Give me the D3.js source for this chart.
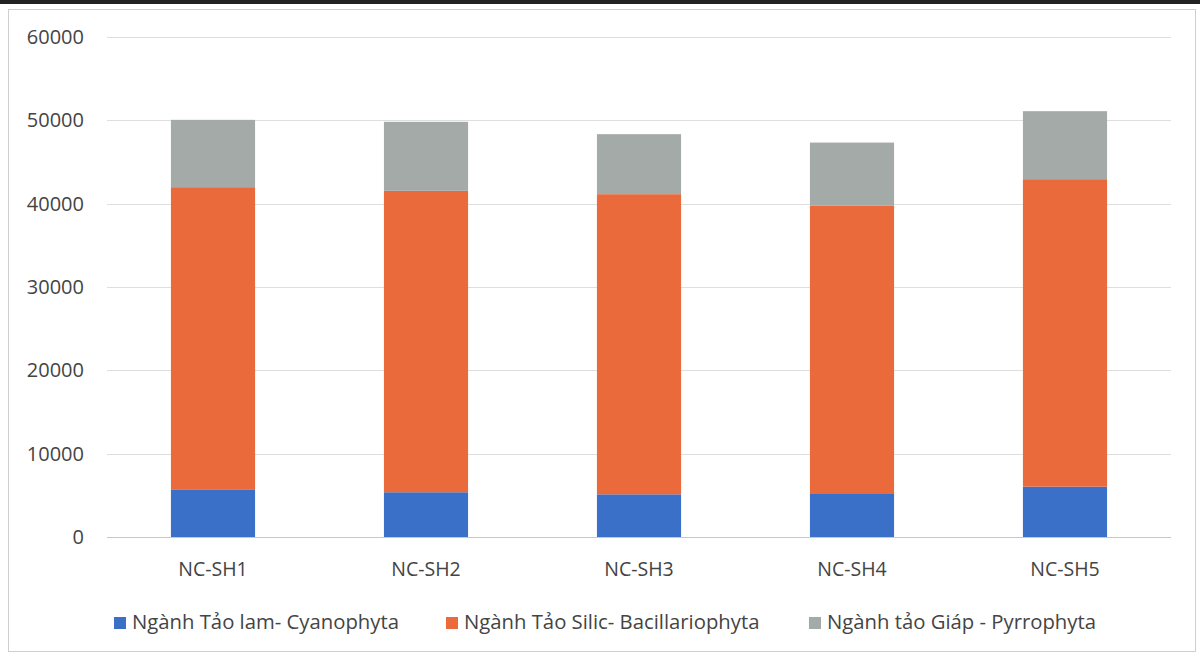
<!DOCTYPE html>
<html><head><meta charset="utf-8">
<script src="https://cdn.jsdelivr.net/npm/d3@7"></script>
<style>html,body{margin:0;padding:0;background:#fff;}svg{display:block;}</style>
</head><body>
<svg id="c" width="1200" height="654"></svg>
<script>
const categories = ["NC-SH1","NC-SH2","NC-SH3","NC-SH4","NC-SH5"];
const seriesNames = ["Ngành Tảo lam- Cyanophyta","Ngành Tảo Silic- Bacillariophyta","Ngành tảo Giáp - Pyrrophyta"];
const cyanophyta = [5720, 5370, 5120, 5160, 6040];
const bacillariophyta = [36260, 36170, 36020, 34580, 36900];
const pyrrophyta = [8080, 8280, 7200, 7590, 8160];
const yTicks = [0, 10000, 20000, 30000, 40000, 50000, 60000];
const colors = ["#3b70c8", "#ea6a3c", "#a4aaa7"];

const svg = d3.select("#c");
const font = "'Open Sans', 'Noto Sans', sans-serif";

// frame
svg.append("rect").attr("x",0).attr("y",0).attr("width",1200).attr("height",4).attr("fill","#222");
svg.append("rect").attr("x",8.5).attr("y",9.5).attr("width",1187).attr("height",642)
  .attr("fill","none").attr("stroke","#cfcfcf").attr("stroke-width",1);

const x = d3.scaleBand().domain(categories).range([106.5, 1171.5]).paddingInner(0.605).paddingOuter(0.3025);
const y = d3.scaleLinear().domain([0, 60000]).range([537, 37]);

// gridlines
svg.append("g").selectAll("line").data(yTicks).join("line")
  .attr("x1",107).attr("x2",1171)
  .attr("y1",d=>Math.round(y(d))+0.5).attr("y2",d=>Math.round(y(d))+0.5)
  .attr("stroke",d=>d===0?"#c8c8c8":"#dedede").attr("stroke-width",1);

const yAxis = d3.axisLeft(y).tickValues(yTicks).tickSize(0).tickPadding(0).tickFormat(d3.format("d"));
const gy = svg.append("g").attr("transform","translate(84,0)").call(yAxis);
gy.select(".domain").remove();
gy.selectAll("text").attr("font-family",font).attr("font-size",20).attr("fill","#444");

const data = categories.map((c,i)=>({cat:c, s0:cyanophyta[i], s1:bacillariophyta[i], s2:pyrrophyta[i]}));
const stack = d3.stack().keys(["s0","s1","s2"])(data);

svg.append("g").selectAll("g").data(stack).join("g")
  .attr("fill",(d,i)=>colors[i])
  .selectAll("rect").data(d=>d).join("rect")
  .attr("x",d=>x(d.data.cat))
  .attr("width",x.bandwidth())
  .attr("y",d=>y(d[1]))
  .attr("height",d=>y(d[0])-y(d[1]));

const xAxis = d3.axisBottom(x).tickSize(0).tickPadding(0);
const gx = svg.append("g").attr("transform","translate(0,576)").call(xAxis);
gx.select(".domain").remove();
gx.selectAll("text").attr("font-family",font).attr("font-size",19.5).attr("fill","#444").attr("dy",0);

// legend
const legendX = [114, 446, 809];
const lg = svg.append("g").selectAll("g").data(seriesNames).join("g")
  .attr("transform",(d,i)=>`translate(${legendX[i]},617)`);
lg.append("rect").attr("width",12).attr("height",12).attr("fill",(d,i)=>colors[i]);
lg.append("text").attr("x",18).attr("y",12).text(d=>d)
  .attr("font-family",font).attr("font-size",20.3).attr("fill","#444");
</script>
</body></html>
